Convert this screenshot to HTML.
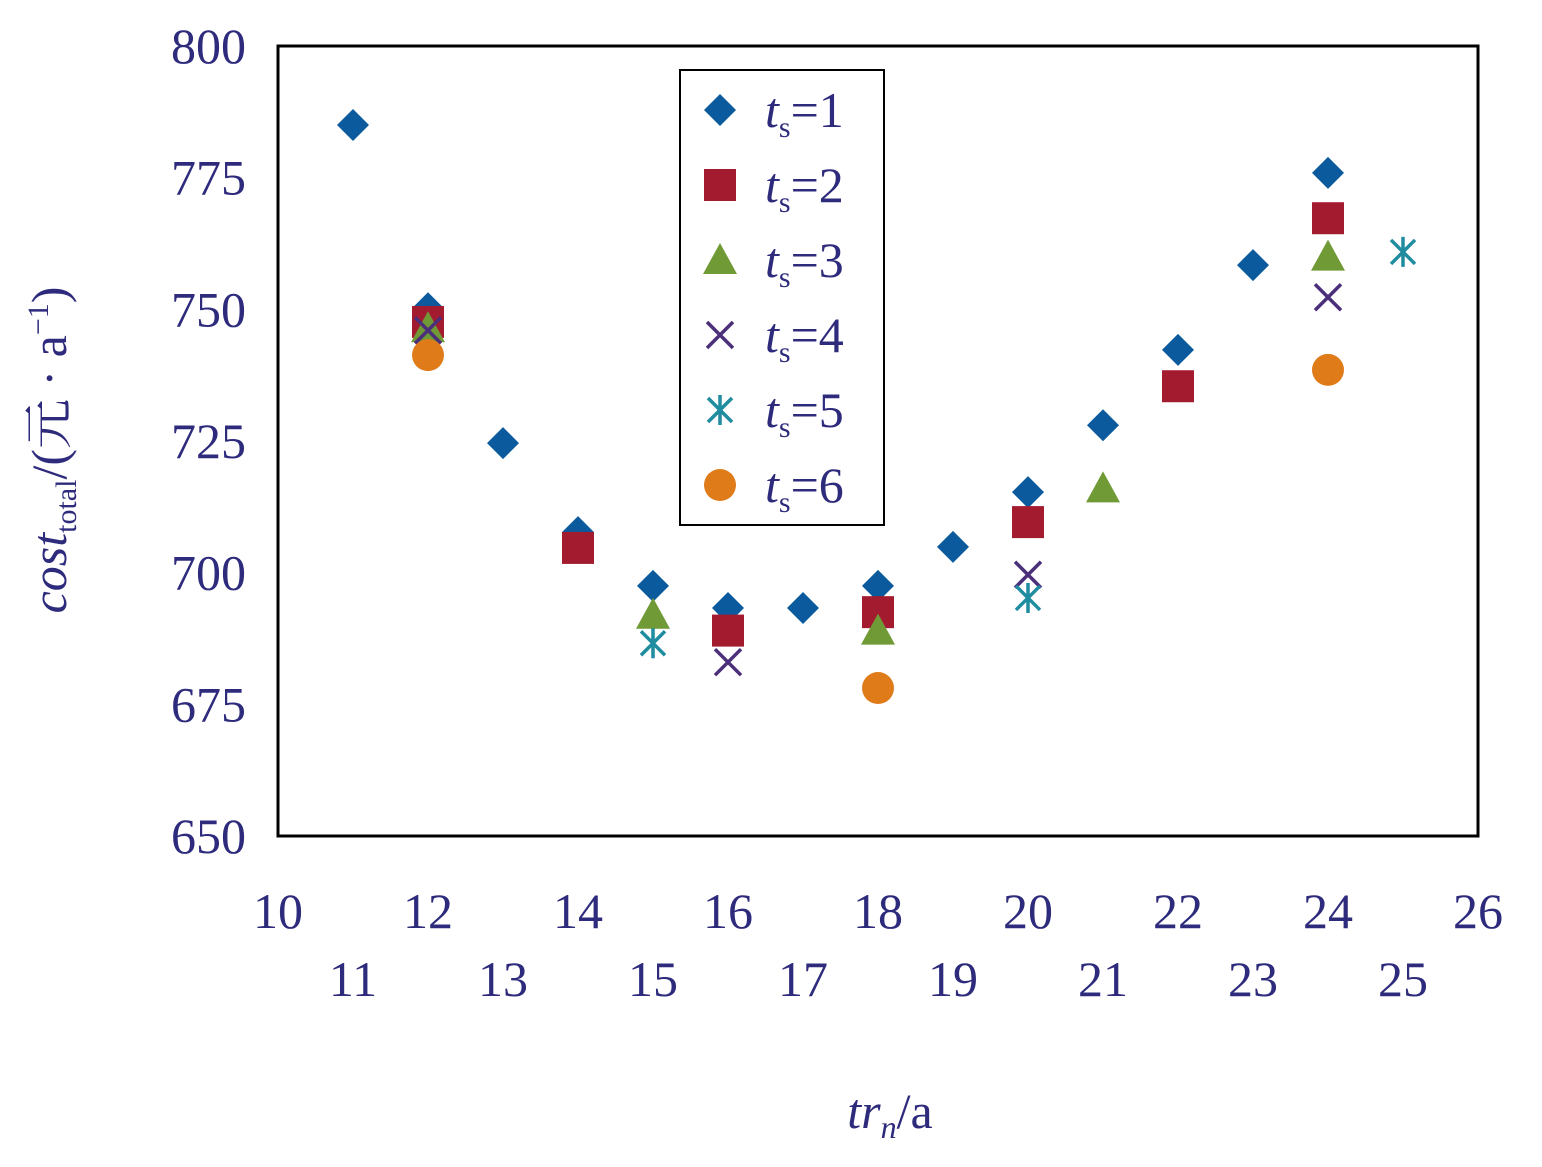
<!DOCTYPE html>
<html><head><meta charset="utf-8"><style>
body{margin:0;background:#fff}
svg text{font-family:"Liberation Serif","Noto Serif CJK SC",serif;fill:#2e2b7c}
</style></head><body>
<svg width="1542" height="1162" xmlns="http://www.w3.org/2000/svg">
<rect x="278" y="46" width="1200" height="790" fill="none" stroke="#000" stroke-width="3"/>
<g id="yt"></g>
<g id="xt"></g>
<g id="marks"></g>
<text x="890" y="1128" font-size="50" text-anchor="middle"><tspan font-style="italic">tr</tspan><tspan font-style="italic" font-size="32" dy="10">n</tspan><tspan dy="-10">/a</tspan></text>
<text transform="translate(66,450) rotate(-90)" font-size="50" text-anchor="middle"><tspan font-style="italic">cost</tspan><tspan font-size="30" dy="10">total</tspan><tspan dy="-10">/(元 · a</tspan><tspan font-size="30" dy="-18">−1</tspan><tspan dy="18">)</tspan></text>
<rect x="680" y="70" width="204" height="455" fill="#fff" stroke="#000" stroke-width="2"/>
<g id="leg"></g>
</svg>
<script>
const yTicks=[650,675,700,725,750,775,800];
const xTicks=[10,11,12,13,14,15,16,17,18,19,20,21,22,23,24,25,26];
const seriesNames=["1","2","3","4","5","6"];
const s1x=[11,12,13,14,15,16,17,18,19,20,21,22,23,24];
const s1y=[785,750.2,724.6,707.7,697.5,693.3,693.3,697.5,704.9,715.3,728,742.3,758.4,775.9];
const s2x=[12,14,16,18,20,22,24];
const s2y=[747.6,704.7,689,692.5,709.6,735.4,767.3];
const s3x=[12,15,18,21,24];
const s3y=[746.4,692,689,716,760];
const s4x=[12,16,20,24];
const s4y=[746,683,699.6,752.3];
const s5x=[15,20,25];
const s5y=[686.6,695.2,760.9];
const s6x=[12,18,24];
const s6y=[741.3,678.1,738.5];
const NS="http://www.w3.org/2000/svg";
const X=v=>278+(v-10)*75, Y=v=>836-(v-650)*790/150;
const colors=["#0b5a9e","#a31b2f","#6f9a35","#4b2f7a","#1f8ca0","#e07b1a"];
function mk(tag,attrs,parent){const e=document.createElementNS(NS,tag);for(const k in attrs)e.setAttribute(k,attrs[k]);parent.appendChild(e);return e;}
const yt=document.getElementById('yt');
yTicks.forEach(v=>{const t=mk('text',{x:246,y:Y(v)+17,'font-size':50,'text-anchor':'end'},yt);t.textContent=v;

});
const xt=document.getElementById('xt');
xTicks.forEach(v=>{const t=mk('text',{x:X(v),y:v%2===0?928:996,'font-size':50,'text-anchor':'middle'},xt);t.textContent=v;

});
function marker(i,cx,cy,parent){
 const c=colors[i];let e;
 if(i===0)e=mk('polygon',{points:`${cx},${cy-16} ${cx+16},${cy} ${cx},${cy+16} ${cx-16},${cy}`,fill:c},parent);
 else if(i===1)e=mk('rect',{x:cx-16,y:cy-16,width:32,height:32,fill:c},parent);
 else if(i===2)e=mk('polygon',{points:`${cx},${cy-17} ${cx+17},${cy+14} ${cx-17},${cy+14}`,fill:c},parent);
 else if(i===3)e=mk('path',{d:`M${cx-13},${cy-13}L${cx+13},${cy+13}M${cx+13},${cy-13}L${cx-13},${cy+13}`,stroke:c,'stroke-width':3.5},parent);
 else if(i===4)e=mk('path',{d:`M${cx-12},${cy-12}L${cx+12},${cy+12}M${cx+12},${cy-12}L${cx-12},${cy+12}M${cx},${cy-15}L${cx},${cy+15}`,stroke:c,'stroke-width':3.5},parent);
 else e=mk('circle',{cx:cx,cy:cy,r:16,fill:c},parent);
 return e;}
const marks=document.getElementById('marks');
const SX=[s1x,s2x,s3x,s4x,s5x,s6x],SY=[s1y,s2y,s3y,s4y,s5y,s6y];
SX.forEach((xs,i)=>xs.forEach((xv,j)=>{const e=marker(i,X(xv),Y(SY[i][j]),marks);

}));
const leg=document.getElementById('leg');
seriesNames.forEach((n,i)=>{const cy=110+i*75;const e=marker(i,720,cy,leg);


const t=mk('text',{x:765,y:cy+17,'font-size':50},leg);
t.innerHTML=`<tspan font-style="italic">t</tspan><tspan font-size="30" dy="10">s</tspan><tspan dy="-10">=${n}</tspan>`;

});
</script>
</body></html>
